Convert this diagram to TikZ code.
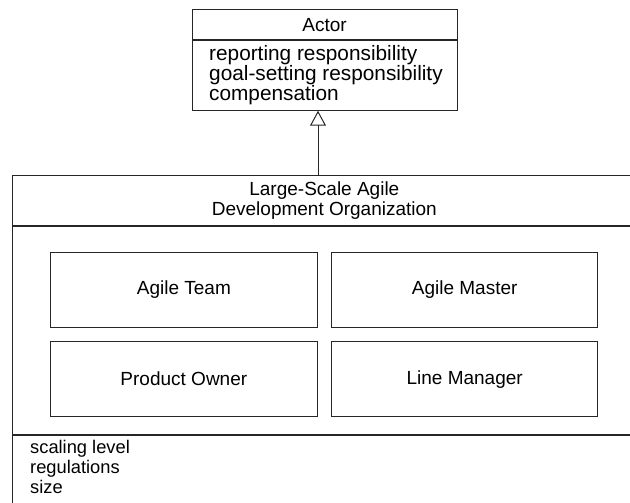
\documentclass[tikz,border=0pt]{standalone}
\usepackage{fontspec}
\setmainfont{Liberation Sans}
\usetikzlibrary{arrows.meta}

\begin{document}
\begin{tikzpicture}[x=1pt, y=-1pt, font=\fontsize{19}{20}\selectfont,
  umlbox/.style={draw=black!85, line width=1pt, inner sep=0pt, align=center},
  rolebox/.style={umlbox, minimum width=266.3pt, minimum height=75pt},
  attrs/.style={anchor=north west, inner sep=0pt, align=left},
  genarrow/.style={draw=black!85, line width=1pt, -{Triangle[open, length=15pt, width=16pt, line width=1pt]}}]
  \useasboundingbox (0,0) rectangle (630,503);
  \clip (0,0) rectangle (630,503);
  % Klasse: Actor med attributter
  \node[umlbox, minimum width=265pt, minimum height=29.3pt] (actor) at (324.5,24.6) {Actor};
  \node[umlbox, minimum width=265pt, minimum height=70pt, anchor=north] (actorattr) at (actor.south) {};
  \node[attrs, font=\fontsize{20.8}{19.8}\selectfont] (actortxt) at (209,45.5) {reporting responsibility\\goal-setting responsibility\\compensation};
  % Klasse: organisationen (gaar ud over kanten)
  \node[umlbox, minimum width=623.3pt, minimum height=50pt] (org) at (324.35,200.7) {Large-Scale Agile\\Development Organization};
  \node[umlbox, minimum width=623.3pt, minimum height=207.3pt, anchor=north] (orgbody) at (org.south) {};
  \node[umlbox, minimum width=623.3pt, minimum height=90pt, anchor=north] (orgattr) at (orgbody.south) {};
  \node[attrs, font=\fontsize{18.3}{19.8}\selectfont] (orgtxt) at (30,440) {scaling level\\regulations\\size};
  % Roller inde i organisationen
  \node[rolebox] (team) at (183.85,289.8) {Agile Team};
  \node[rolebox] (master) at (464.7,289.8) {Agile Master};
  \node[rolebox] (owner) at (183.85,379.2) {Product Owner};
  \node[rolebox] (manager) at (464.7,379.2) {Line Manager};
  % Generalisering op til Actor
  \coordinate (genfoot) at (318,175.7);
  \draw[genarrow] (genfoot) -- (genfoot |- actorattr.south);
\end{tikzpicture}
\end{document}
